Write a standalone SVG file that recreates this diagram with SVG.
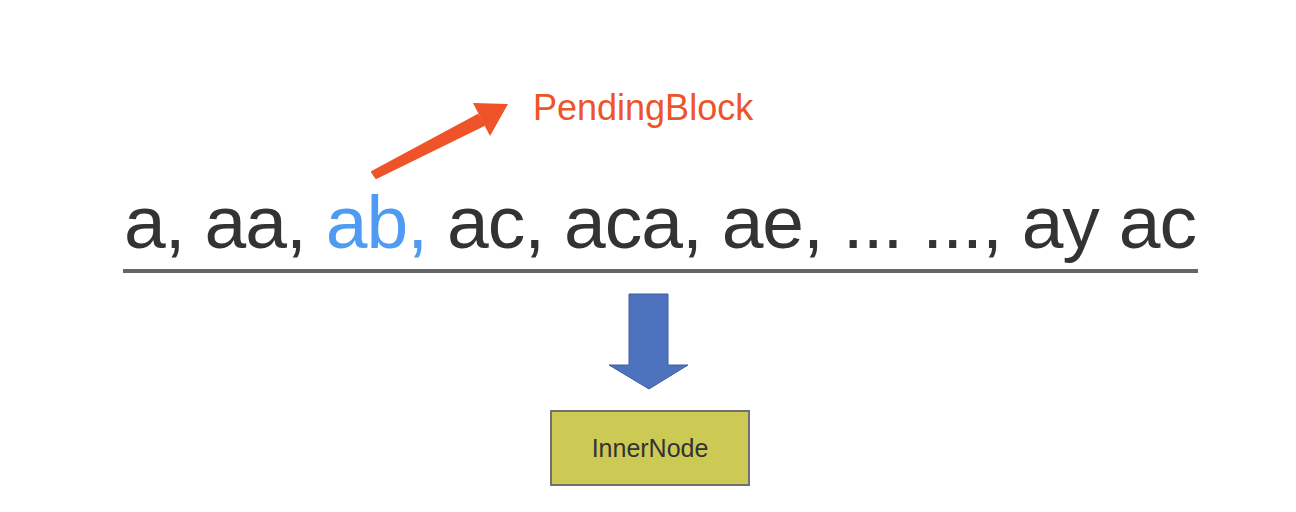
<svg xmlns="http://www.w3.org/2000/svg" width="1296" height="512" viewBox="0 0 1296 512">
<style>
.main{font-family:"Liberation Sans",Arial,sans-serif;font-size:75px;fill:#333333}
.hl{fill:#4F9BF3}
.lbl{font-family:"Liberation Sans",Arial,sans-serif;font-size:36px;fill:#EE5329}
.node{font-family:"Liberation Sans",Arial,sans-serif;font-size:25px;fill:#333333}
</style>
<rect width="1296" height="512" fill="#ffffff"/>
<g id="sequence">
<text class="main" x="124" y="248" textLength="1073" lengthAdjust="spacing">a, aa, <tspan class="hl">ab,</tspan> ac, aca, ae, ... ..., ay ac</text>
<line x1="123" y1="271" x2="1198" y2="271" stroke="#666666" stroke-width="4"/>
</g>
<g id="pendingblock">
<text class="lbl" x="533" y="120">PendingBlock</text>
</g>
<g id="innernode">
<rect x="551" y="411" width="198" height="74" fill="#CCC955" stroke="#707070" stroke-width="2"/>
<text class="node" x="650" y="457" text-anchor="middle">InnerNode</text>
</g>
<g id="connectors">
<polygon points="372,172 376,178 484,125 478,115" fill="#EE5329" stroke="#EE5329" stroke-width="2" stroke-linejoin="round"/>
<polygon points="508,104 473,103 490,136" fill="#EE5329"/>
<polygon points="629,294 668,294 668,365 688,365 649,389 609,365 629,365" fill="#4D72BE" stroke="#3F5FA3" stroke-width="1"/>
</g>
</svg>
